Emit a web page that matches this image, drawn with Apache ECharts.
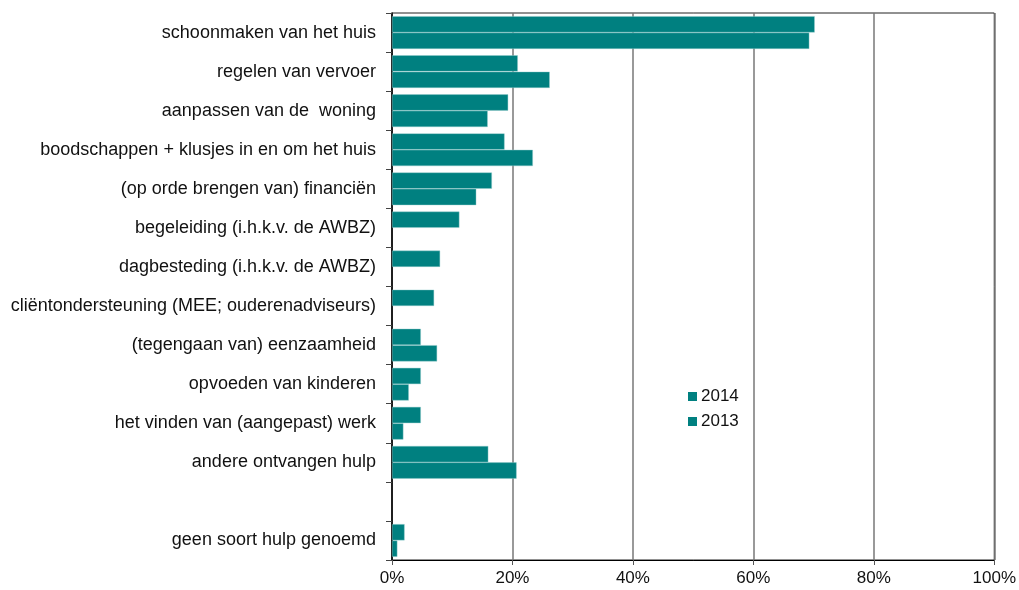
<!DOCTYPE html>
<html>
<head>
<meta charset="utf-8">
<script src="https://cdn.jsdelivr.net/npm/echarts@6/dist/echarts.min.js"></script>
<style>html,body{margin:0;padding:0;background:#fff}#c{width:1019px;height:590px}</style>
</head>
<body>
<div id="c"></div>
<script>
const categories = [
  'schoonmaken van het huis',
  'regelen van vervoer',
  'aanpassen van de  woning',
  'boodschappen + klusjes in en om het huis',
  '(op orde brengen van) financiën',
  'begeleiding (i.h.k.v. de AWBZ)',
  'dagbesteding (i.h.k.v. de AWBZ)',
  'cliëntondersteuning (MEE; ouderenadviseurs)',
  '(tegengaan van) eenzaamheid',
  'opvoeden van kinderen',
  'het vinden van (aangepast) werk',
  'andere ontvangen hulp',
  '',
  'geen soort hulp genoemd'
];
const values2014 = [70.2, 20.9, 19.3, 18.7, 16.6, 11.2, 8.0, 7.0, 4.8, 4.8, 4.8, 16.0, null, 2.1];
const values2013 = [69.3, 26.2, 15.9, 23.4, 14.0, null, null, null, 7.5, 2.8, 1.9, 20.7, null, 0.9];
const xTicks = [0, 20, 40, 60, 80, 100];

const teal = '#008080';
const font = 'Liberation Sans, Arial, sans-serif';
const chart = echarts.init(document.getElementById('c'));
chart.setOption({
  animation: false,
  grid: {left: 392, right: 23, top: 13, bottom: 30, show: true, borderColor: '#222', borderWidth: 1},
  legend: {
    orient: 'vertical', left: 683, top: 383,
    data: ['2014', '2013'],
    icon: 'rect', itemWidth: 9, itemHeight: 9, itemGap: 8,
    itemStyle: {borderWidth: 0},
    textStyle: {fontFamily: font, fontSize: 17, color: '#111', padding: [0, 0, 0, -1]}
  },
  xAxis: {
    type: 'value', min: 0, max: 100, interval: 20,
    axisLine: {show: true, lineStyle: {color: '#000', width: 1}},
    axisTick: {show: true, length: 5, lineStyle: {color: '#555'}},
    splitLine: {show: true, lineStyle: {color: '#777', width: 1.5}},
    axisLabel: {fontFamily: font, fontSize: 17, color: '#111', margin: 10,
      formatter: v => xTicks.includes(v) ? v + '%' : ''}
  },
  yAxis: {
    type: 'category', data: categories, inverse: true,
    axisLine: {show: true, lineStyle: {color: '#000', width: 1.5}},
    axisTick: {show: true, length: 6, lineStyle: {color: '#444'}},
    axisLabel: {fontFamily: font, fontSize: 18, color: '#111', margin: 16}
  },
  series: [
    {name: '2014', type: 'bar', data: values2014, barGap: '0%', barCategoryGap: '16%',
      itemStyle: {color: teal, borderColor: 'rgba(150,205,205,0.7)', borderWidth: 0.6}},
    {name: '2013', type: 'bar', data: values2013, barGap: '0%', barCategoryGap: '16%',
      itemStyle: {color: teal, borderColor: 'rgba(150,205,205,0.7)', borderWidth: 0.6}}
  ]
});
</script>
</body>
</html>
